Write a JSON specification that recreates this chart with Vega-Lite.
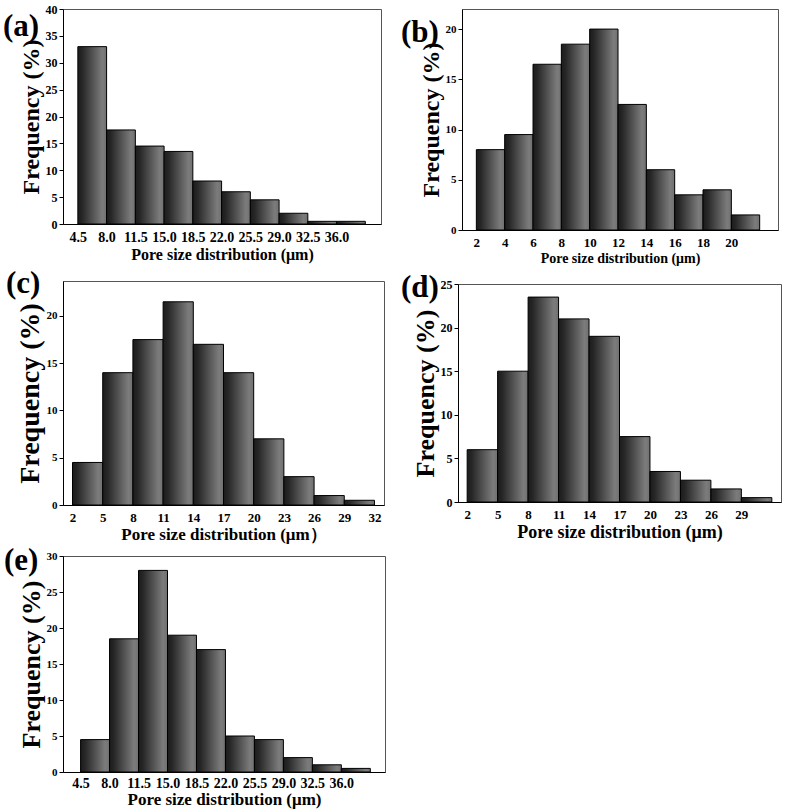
{
  "$schema": "https://vega.github.io/schema/vega-lite/v6.json",
  "background": "white",
  "padding": {"left": 2, "top": 2, "right": 2, "bottom": 2},
  "datasets": {
    "a": [
      {"start": 4.5, "end": 8.0, "freq": 33},
      {"start": 8.0, "end": 11.5, "freq": 17.5},
      {"start": 11.5, "end": 15.0, "freq": 14.5},
      {"start": 15.0, "end": 18.5, "freq": 13.5},
      {"start": 18.5, "end": 22.0, "freq": 8},
      {"start": 22.0, "end": 25.5, "freq": 6},
      {"start": 25.5, "end": 29.0, "freq": 4.5},
      {"start": 29.0, "end": 32.5, "freq": 2},
      {"start": 32.5, "end": 36.0, "freq": 0.5},
      {"start": 36.0, "end": 39.5, "freq": 0.5}
    ],
    "b": [
      {"start": 2, "end": 4, "freq": 8},
      {"start": 4, "end": 6, "freq": 9.5},
      {"start": 6, "end": 8, "freq": 16.5},
      {"start": 8, "end": 10, "freq": 18.5},
      {"start": 10, "end": 12, "freq": 20},
      {"start": 12, "end": 14, "freq": 12.5},
      {"start": 14, "end": 16, "freq": 6},
      {"start": 16, "end": 18, "freq": 3.5},
      {"start": 18, "end": 20, "freq": 4},
      {"start": 20, "end": 22, "freq": 1.5}
    ],
    "c": [
      {"start": 2, "end": 5, "freq": 4.5},
      {"start": 5, "end": 8, "freq": 14},
      {"start": 8, "end": 11, "freq": 17.5},
      {"start": 11, "end": 14, "freq": 21.5},
      {"start": 14, "end": 17, "freq": 17},
      {"start": 17, "end": 20, "freq": 14},
      {"start": 20, "end": 23, "freq": 7},
      {"start": 23, "end": 26, "freq": 3},
      {"start": 26, "end": 29, "freq": 1},
      {"start": 29, "end": 32, "freq": 0.5}
    ],
    "d": [
      {"start": 2, "end": 5, "freq": 6},
      {"start": 5, "end": 8, "freq": 15},
      {"start": 8, "end": 11, "freq": 23.5},
      {"start": 11, "end": 14, "freq": 21},
      {"start": 14, "end": 17, "freq": 19},
      {"start": 17, "end": 20, "freq": 7.5},
      {"start": 20, "end": 23, "freq": 3.5},
      {"start": 23, "end": 26, "freq": 2.5},
      {"start": 26, "end": 29, "freq": 1.5},
      {"start": 29, "end": 32, "freq": 0.5}
    ],
    "e": [
      {"start": 4.5, "end": 8.0, "freq": 4.5},
      {"start": 8.0, "end": 11.5, "freq": 18.5},
      {"start": 11.5, "end": 15.0, "freq": 28},
      {"start": 15.0, "end": 18.5, "freq": 19},
      {"start": 18.5, "end": 22.0, "freq": 17},
      {"start": 22.0, "end": 25.5, "freq": 5},
      {"start": 25.5, "end": 29.0, "freq": 4.5},
      {"start": 29.0, "end": 32.5, "freq": 2},
      {"start": 32.5, "end": 36.0, "freq": 1},
      {"start": 36.0, "end": 39.5, "freq": 0.5}
    ]
  },
  "columns": 2,
  "align": "none",
  "spacing": {"row": 1, "column": 14},
  "concat": [
    {
      "width": 318, "height": 215,
      "title": {"text": "(a)", "dx": -60, "dy": 40, "baseline": "top", "offset": 0},
      "data": {"name": "a"},
      "mark": {"type": "bar", "orient": "vertical", "stroke": "#000", "strokeWidth": 1,
        "fill": {"gradient": "linear", "x1": 0, "x2": 1, "y1": 0, "y2": 0, "stops": [{"offset": 0, "color": "#1c1c1c"}, {"offset": 0.15, "color": "#262626"}, {"offset": 0.85, "color": "#7c7c7c"}, {"offset": 1, "color": "#707070"}]}},
      "encoding": {
        "x": {"field": "start", "type": "quantitative", "scale": {"domain": [3.3, 40.8], "nice": false, "zero": false},
          "axis": {"values": [4.5, 8, 11.5, 15, 18.5, 22, 25.5, 29, 32.5, 36], "format": ".1f", "title": "Pore size distribution (μm)", "labelFontSize": 14, "titleFontSize": 16, "tickSize": 0, "labelPadding": 6, "titlePadding": 2}},
        "x2": {"field": "end"},
        "y": {"field": "freq", "type": "quantitative", "scale": {"domain": [0, 40], "nice": false},
          "axis": {"values": [0, 5, 10, 15, 20, 25, 30, 35, 40], "title": "Frequency (%)", "labelFontSize": 12, "titleFontSize": 24, "tickSize": 4, "titlePadding": 2}}
      }
    },
    {
      "width": 316, "height": 221,
      "title": {"text": "(b)", "dx": -61, "dy": 40, "baseline": "top", "offset": 0},
      "data": {"name": "b"},
      "mark": {"type": "bar", "orient": "vertical", "stroke": "#000", "strokeWidth": 1,
        "fill": {"gradient": "linear", "x1": 0, "x2": 1, "y1": 0, "y2": 0, "stops": [{"offset": 0, "color": "#1c1c1c"}, {"offset": 0.15, "color": "#262626"}, {"offset": 0.85, "color": "#7c7c7c"}, {"offset": 1, "color": "#707070"}]}},
      "encoding": {
        "x": {"field": "start", "type": "quantitative", "scale": {"domain": [1.34, 22.94], "nice": false, "zero": false},
          "axis": {"values": [2, 4, 6, 8, 10, 12, 14, 16, 18, 20], "format": "d", "title": "Pore size distribution (μm)", "labelFontSize": 13, "titleFontSize": 14, "tickSize": 0, "labelPadding": 6, "titlePadding": 2}},
        "x2": {"field": "end"},
        "y": {"field": "freq", "type": "quantitative", "scale": {"domain": [0, 22], "nice": false},
          "axis": {"values": [0, 5, 10, 15, 20], "title": "Frequency (%)", "labelFontSize": 11, "titleFontSize": 24, "tickSize": 4, "titlePadding": 2}}
      }
    },
    {
      "width": 321, "height": 224,
      "title": {"text": "(c)", "dx": -57, "dy": 19, "baseline": "top", "offset": 0},
      "data": {"name": "c"},
      "mark": {"type": "bar", "orient": "vertical", "stroke": "#000", "strokeWidth": 1,
        "fill": {"gradient": "linear", "x1": 0, "x2": 1, "y1": 0, "y2": 0, "stops": [{"offset": 0, "color": "#1c1c1c"}, {"offset": 0.15, "color": "#262626"}, {"offset": 0.85, "color": "#7c7c7c"}, {"offset": 1, "color": "#707070"}]}},
      "encoding": {
        "x": {"field": "start", "type": "quantitative", "scale": {"domain": [1.55, 32.45], "nice": false, "zero": false},
          "axis": {"values": [2, 5, 8, 11, 14, 17, 20, 23, 26, 29, 32], "format": "d", "title": "Pore size distribution (μm）", "labelFontSize": 13, "titleFontSize": 17, "tickSize": 0, "labelPadding": 6, "titlePadding": 2}},
        "x2": {"field": "end"},
        "y": {"field": "freq", "type": "quantitative", "scale": {"domain": [0, 23.7], "nice": false},
          "axis": {"values": [0, 5, 10, 15, 20], "title": "Frequency (%)", "labelFontSize": 11, "titleFontSize": 28, "tickSize": 4, "titlePadding": 2}}
      }
    },
    {
      "width": 323, "height": 218,
      "title": {"text": [" ", "(d)"], "lineHeight": 4, "dx": -57, "dy": 26, "baseline": "top", "offset": 0},
      "data": {"name": "d"},
      "mark": {"type": "bar", "orient": "vertical", "stroke": "#000", "strokeWidth": 1,
        "fill": {"gradient": "linear", "x1": 0, "x2": 1, "y1": 0, "y2": 0, "stops": [{"offset": 0, "color": "#1c1c1c"}, {"offset": 0.15, "color": "#262626"}, {"offset": 0.85, "color": "#7c7c7c"}, {"offset": 1, "color": "#707070"}]}},
      "encoding": {
        "x": {"field": "start", "type": "quantitative", "scale": {"domain": [1.59, 32.41], "nice": false, "zero": false},
          "axis": {"values": [2, 5, 8, 11, 14, 17, 20, 23, 26, 29], "format": "d", "title": "Pore size distribution (μm)", "labelFontSize": 13, "titleFontSize": 18, "tickSize": 0, "labelPadding": 6, "titlePadding": 2}},
        "x2": {"field": "end"},
        "y": {"field": "freq", "type": "quantitative", "scale": {"domain": [0, 25], "nice": false},
          "axis": {"values": [0, 5, 10, 15, 20, 25], "title": "Frequency (%)", "labelFontSize": 12, "titleFontSize": 26, "tickSize": 4, "titlePadding": 2}}
      }
    },
    {
      "width": 322, "height": 216,
      "title": {"text": "(e)", "dx": -59, "dy": 27, "baseline": "top", "offset": 0},
      "data": {"name": "e"},
      "mark": {"type": "bar", "orient": "vertical", "stroke": "#000", "strokeWidth": 1,
        "fill": {"gradient": "linear", "x1": 0, "x2": 1, "y1": 0, "y2": 0, "stops": [{"offset": 0, "color": "#1c1c1c"}, {"offset": 0.15, "color": "#262626"}, {"offset": 0.85, "color": "#7c7c7c"}, {"offset": 1, "color": "#707070"}]}},
      "encoding": {
        "x": {"field": "start", "type": "quantitative", "scale": {"domain": [2.98, 40.67], "nice": false, "zero": false},
          "axis": {"values": [4.5, 8, 11.5, 15, 18.5, 22, 25.5, 29, 32.5, 36], "format": ".1f", "title": "Pore size distribution (μm)", "labelFontSize": 14, "titleFontSize": 17, "tickSize": 0, "labelPadding": 4, "titlePadding": 1}},
        "x2": {"field": "end"},
        "y": {"field": "freq", "type": "quantitative", "scale": {"domain": [0, 30], "nice": false},
          "axis": {"values": [0, 5, 10, 15, 20, 25, 30], "title": "Frequency (%)", "labelFontSize": 11, "titleFontSize": 26, "tickSize": 4, "titlePadding": 2}}
      }
    }
  ],
  "config": {
    "font": "Liberation Serif",
    "view": {"stroke": "#555", "strokeWidth": 1},
    "axis": {"grid": false, "labelFont": "Liberation Serif", "labelFontWeight": "bold", "labelColor": "#000", "labelOverlap": false, "labelFlush": false, "titleFont": "Liberation Serif", "titleFontWeight": "bold", "titleColor": "#000", "domainColor": "#000", "tickColor": "#000"},
    "title": {"font": "Liberation Serif", "fontWeight": "bold", "fontSize": 31, "anchor": "start", "frame": "group", "color": "#000"}
  }
}
